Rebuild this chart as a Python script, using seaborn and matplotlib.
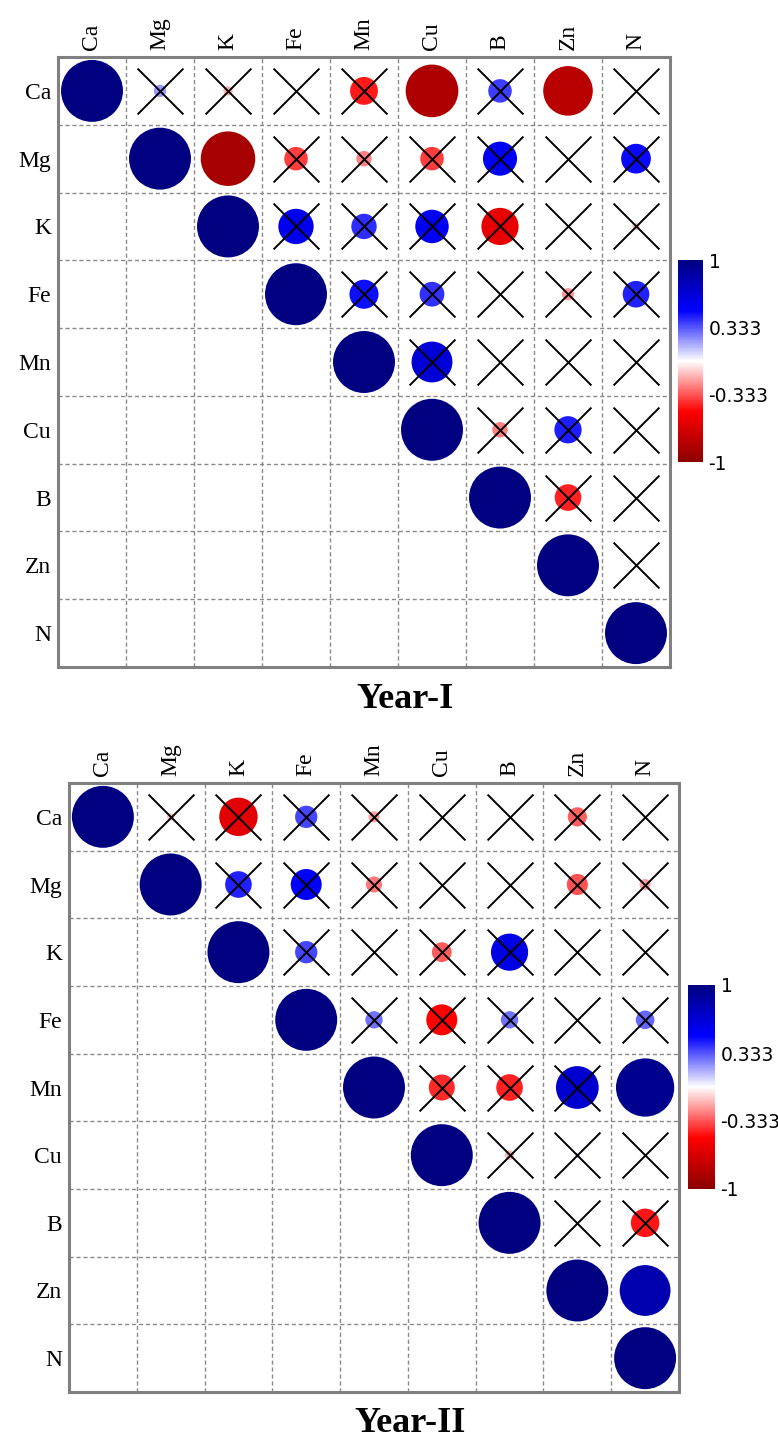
"""
Correlation plots (upper triangle) of leaf nutrients for two seasons.
Circle colour and diameter follow r, crosses mark non-significant pairs.
"""

import numpy as np
import pandas as pd
import matplotlib
matplotlib.use("Agg")
import matplotlib.pyplot as plt
from matplotlib.colors import LinearSegmentedColormap, Normalize
from matplotlib.cm import ScalarMappable
import seaborn as sns

nutrients = ["Ca", "Mg", "K", "Fe", "Mn", "Cu", "B", "Zn", "N"]

# upper triangle of the correlation matrix, row by row (starting at the diagonal)
year1_r = [
    [1.00, 0.20, -0.15, 0.02, -0.45, -0.85, 0.38, -0.80, 0.05],
    [1.00, -0.88, -0.38, -0.25, -0.38, 0.55, 0.00, 0.48],
    [1.00, 0.57, 0.41, 0.54, -0.60, -0.05, -0.12],
    [1.00, 0.47, 0.40, 0.00, -0.20, 0.43],
    [1.00, 0.66, -0.05, 0.00, 0.02],
    [1.00, -0.25, 0.44, 0.00],
    [1.00, -0.43, 0.00],
    [1.00, 0.00],
    [1.00],
]
year1_sig = [("Ca", "Cu"), ("Ca", "Zn"), ("Mg", "K")]

year2_r = [
    [1.00, -0.12, -0.62, 0.36, -0.18, 0.06, 0.00, -0.31, -0.06],
    [1.00, 0.43, 0.50, -0.26, 0.00, 0.00, -0.34, -0.18],
    [1.00, 0.36, 0.00, -0.32, 0.60, 0.03, 0.00],
    [1.00, 0.28, -0.50, 0.28, 0.00, 0.30],
    [1.00, -0.42, -0.43, 0.69, 0.94],
    [1.00, -0.15, 0.08, -0.06],
    [1.00, -0.05, -0.46],
    [1.00, 0.82],
    [1.00],
]
year2_sig = [("Mn", "N"), ("Zn", "N")]

cbar_ticks = [1, 0.333, -0.333, -1]
cbar_labels = ["1", "0.333", "-0.333", "-1"]

cmap = LinearSegmentedColormap.from_list(
    "corr", ["#8b0000", "#ff0000", "#ffffff", "#0000ff", "#000080"])


def to_long(r_rows, sig_pairs):
    recs = []
    for i, row in enumerate(r_rows):
        for k, val in enumerate(row):
            j = i + k
            sig = (i == j) or ((nutrients[i], nutrients[j]) in sig_pairs)
            # diameter grows linearly with |r|, so marker area goes with r^2
            recs.append(dict(row=i, col=j, r=val, area=val ** 2, sig=sig))
    return pd.DataFrame(recs)


def draw_panel(fig, ax, cax, df):
    n = len(nutrients)
    ax.set_xlim(-0.5, n - 0.5)
    ax.set_ylim(n - 0.5, -0.5)
    for p in np.arange(0.5, n - 1, 1):
        ax.axvline(p, color="#8a8a8a", lw=1.0, ls=(0, (3, 2)), zorder=1)
        ax.axhline(p, color="#8a8a8a", lw=1.0, ls=(0, (3, 2)), zorder=1)

    sns.scatterplot(data=df, x="col", y="row", hue="r", palette=cmap,
                    hue_norm=(-1, 1), size="area", sizes=(0, 1990),
                    size_norm=(0, 1), linewidth=0, legend=False,
                    ax=ax, zorder=2)
    sns.scatterplot(data=df[~df["sig"]], x="col", y="row", marker="x",
                    color="black", s=1090, linewidth=1.4, legend=False,
                    ax=ax, zorder=3)

    ax.set_xlabel("")
    ax.set_ylabel("")
    ax.set_xticks(range(n))
    ax.set_xticklabels(nutrients, rotation=90)
    ax.set_yticks(range(n))
    ax.set_yticklabels(nutrients)
    ax.xaxis.tick_top()
    ax.tick_params(length=0, labelsize=17, pad=5, labelcolor="black")
    for s in ax.spines.values():
        s.set_visible(True)
        s.set_color("#808080")
        s.set_linewidth(2.2)

    cb = fig.colorbar(ScalarMappable(norm=Normalize(-1, 1), cmap=cmap), cax=cax)
    cb.set_ticks(cbar_ticks)
    cb.set_ticklabels(cbar_labels)
    cb.outline.set_visible(False)
    cax.tick_params(length=0, labelsize=13.5, pad=4, labelcolor="black")
    for lab in cax.get_yticklabels():
        lab.set_fontfamily("DejaVu Sans")


sns.set_style("white")
plt.rcParams["font.family"] = ["Liberation Serif", "DejaVu Serif"]
plt.rcParams["text.color"] = "black"

W, H = 778, 1443
fig = plt.figure(figsize=(W / 100, H / 100), dpi=100)

ax1 = fig.add_axes([58 / W, 1 - 667 / H, 612 / W, 610 / H])
cax1 = fig.add_axes([678 / W, 1 - 462 / H, 25 / W, 202 / H])
draw_panel(fig, ax1, cax1, to_long(year1_r, year1_sig))
fig.text(405 / W, 1 - 700 / H, "Year-I", ha="center", va="center",
         fontsize=26, fontweight="bold", color="black")

ax2 = fig.add_axes([69 / W, 1 - 1392 / H, 610 / W, 609 / H])
cax2 = fig.add_axes([688 / W, 1 - 1189 / H, 27 / W, 204 / H])
draw_panel(fig, ax2, cax2, to_long(year2_r, year2_sig))
fig.text(410 / W, 1 - 1424 / H, "Year-II", ha="center", va="center",
         fontsize=26, fontweight="bold", color="black")

fig.savefig("out.png", dpi=100)
plt.close(fig)
